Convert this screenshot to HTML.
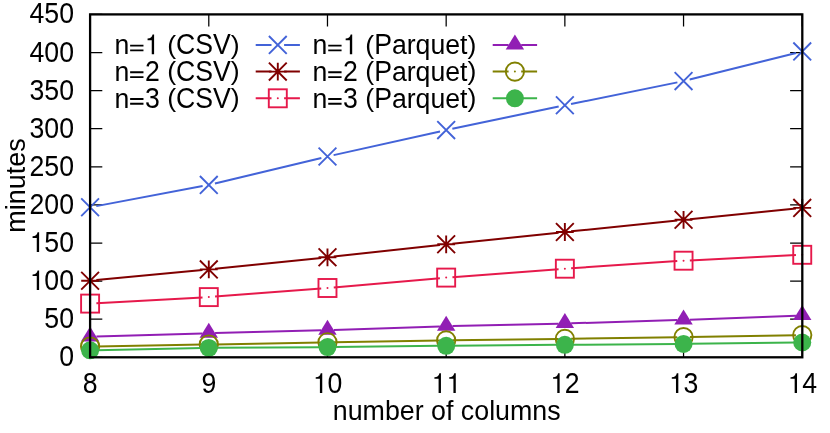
<!DOCTYPE html><html><head><meta charset="utf-8"><style>html,body{margin:0;padding:0;background:#fff}svg{display:block;will-change:transform}</style></head><body><svg width="830" height="433" viewBox="0 0 830 433">
<rect width="830" height="433" fill="#fff"/>
<path d="M90.10,357.30h12.2M802.30,357.30h-12.2M90.10,319.20h12.2M802.30,319.20h-12.2M90.10,281.10h12.2M802.30,281.10h-12.2M90.10,243.00h12.2M802.30,243.00h-12.2M90.10,204.90h12.2M802.30,204.90h-12.2M90.10,166.80h12.2M802.30,166.80h-12.2M90.10,128.70h12.2M802.30,128.70h-12.2M90.10,90.60h12.2M802.30,90.60h-12.2M90.10,52.50h12.2M802.30,52.50h-12.2M90.10,14.40h12.2M802.30,14.40h-12.2M90.10,357.30v-12.2M90.10,14.40v12.2M208.79,357.30v-12.2M208.79,14.40v12.2M327.48,357.30v-12.2M327.48,14.40v12.2M446.17,357.30v-12.2M446.17,14.40v12.2M564.86,357.30v-12.2M564.86,14.40v12.2M683.55,357.30v-12.2M683.55,14.40v12.2M802.24,357.30v-12.2M802.24,14.40v12.2" stroke="#000" stroke-width="1.25" fill="none"/>
<g fill="#000" style="font-family:&quot;Liberation Sans&quot;,sans-serif;font-size:26.67px;filter:grayscale(1);font-kerning:none">
<text transform="translate(59.17,366.30) scale(1,1.09)">0</text>
<text transform="translate(44.34,328.20) scale(1,1.09)">5</text><text transform="translate(59.17,328.20) scale(1,1.09)">0</text>
<path transform="translate(29.51,290.10) scale(26.67,-27.737)" d="M0.360,0H0.272V0.507H0.115V0.566C0.220,0.574 0.283,0.600 0.303,0.709H0.360Z"/><text transform="translate(44.34,290.10) scale(1,1.09)">0</text><text transform="translate(59.17,290.10) scale(1,1.09)">0</text>
<path transform="translate(29.51,252.00) scale(26.67,-27.737)" d="M0.360,0H0.272V0.507H0.115V0.566C0.220,0.574 0.283,0.600 0.303,0.709H0.360Z"/><text transform="translate(44.34,252.00) scale(1,1.09)">5</text><text transform="translate(59.17,252.00) scale(1,1.09)">0</text>
<text transform="translate(29.51,213.90) scale(1,1.09)">2</text><text transform="translate(44.34,213.90) scale(1,1.09)">0</text><text transform="translate(59.17,213.90) scale(1,1.09)">0</text>
<text transform="translate(29.51,175.80) scale(1,1.09)">2</text><text transform="translate(44.34,175.80) scale(1,1.09)">5</text><text transform="translate(59.17,175.80) scale(1,1.09)">0</text>
<text transform="translate(29.51,137.70) scale(1,1.09)">3</text><text transform="translate(44.34,137.70) scale(1,1.09)">0</text><text transform="translate(59.17,137.70) scale(1,1.09)">0</text>
<text transform="translate(29.51,99.60) scale(1,1.09)">3</text><text transform="translate(44.34,99.60) scale(1,1.09)">5</text><text transform="translate(59.17,99.60) scale(1,1.09)">0</text>
<text transform="translate(29.51,61.50) scale(1,1.09)">4</text><text transform="translate(44.34,61.50) scale(1,1.09)">0</text><text transform="translate(59.17,61.50) scale(1,1.09)">0</text>
<text transform="translate(29.51,23.40) scale(1,1.09)">4</text><text transform="translate(44.34,23.40) scale(1,1.09)">5</text><text transform="translate(59.17,23.40) scale(1,1.09)">0</text>
<text transform="translate(82.69,392.90) scale(1,1.09)">8</text>
<text transform="translate(201.38,392.90) scale(1,1.09)">9</text>
<path transform="translate(312.65,392.90) scale(26.67,-27.737)" d="M0.360,0H0.272V0.507H0.115V0.566C0.220,0.574 0.283,0.600 0.303,0.709H0.360Z"/><text transform="translate(327.48,392.90) scale(1,1.09)">0</text>
<path transform="translate(431.34,392.90) scale(26.67,-27.737)" d="M0.360,0H0.272V0.507H0.115V0.566C0.220,0.574 0.283,0.600 0.303,0.709H0.360Z"/><path transform="translate(446.17,392.90) scale(26.67,-27.737)" d="M0.360,0H0.272V0.507H0.115V0.566C0.220,0.574 0.283,0.600 0.303,0.709H0.360Z"/>
<path transform="translate(550.03,392.90) scale(26.67,-27.737)" d="M0.360,0H0.272V0.507H0.115V0.566C0.220,0.574 0.283,0.600 0.303,0.709H0.360Z"/><text transform="translate(564.86,392.90) scale(1,1.09)">2</text>
<path transform="translate(668.72,392.90) scale(26.67,-27.737)" d="M0.360,0H0.272V0.507H0.115V0.566C0.220,0.574 0.283,0.600 0.303,0.709H0.360Z"/><text transform="translate(683.55,392.90) scale(1,1.09)">3</text>
<path transform="translate(787.41,392.90) scale(26.67,-27.737)" d="M0.360,0H0.272V0.507H0.115V0.566C0.220,0.574 0.283,0.600 0.303,0.709H0.360Z"/><text transform="translate(802.24,392.90) scale(1,1.09)">4</text>
<text transform="translate(446.7,420.4) scale(1.005,1.035)" text-anchor="middle">number of columns</text>
<text transform="translate(25.3,185.5) rotate(-90) scale(1.012,1.035)" text-anchor="middle">minutes</text>
<text transform="translate(114.50,54.20) scale(1,1.035)">n</text><path d="M130.13,45.61h13.34M130.13,50.39h13.34" stroke="#000" stroke-width="1.9" fill="none"/><path transform="translate(144.50,54.20) scale(26.67,-27.737)" d="M0.360,0H0.272V0.507H0.115V0.566C0.220,0.574 0.283,0.600 0.303,0.709H0.360Z"/><text transform="translate(167.15,53.65) scale(1,1.0)">(</text><text transform="translate(176.03,54.20) scale(1,1.075)">CSV</text><text transform="translate(230.86,53.65) scale(1,1.0)">)</text>
<text transform="translate(312.60,54.20) scale(1,1.035)">n</text><path d="M328.23,45.61h13.34M328.23,50.39h13.34" stroke="#000" stroke-width="1.9" fill="none"/><path transform="translate(342.60,54.20) scale(26.67,-27.737)" d="M0.360,0H0.272V0.507H0.115V0.566C0.220,0.574 0.283,0.600 0.303,0.709H0.360Z"/><text transform="translate(365.25,53.65) scale(1,1.0)">(</text><text transform="translate(374.13,54.20) scale(1,1.075)">P</text><text transform="translate(391.92,54.20) scale(1,1.035)">arquet</text><text transform="translate(467.53,53.65) scale(1,1.0)">)</text>
<text transform="translate(114.50,80.90) scale(1,1.035)">n</text><path d="M130.13,72.31h13.34M130.13,77.09h13.34" stroke="#000" stroke-width="1.9" fill="none"/><text transform="translate(144.90,80.90) scale(1,1.09)">2</text><text transform="translate(167.15,80.35) scale(1,1.0)">(</text><text transform="translate(176.03,80.90) scale(1,1.075)">CSV</text><text transform="translate(230.86,80.35) scale(1,1.0)">)</text>
<text transform="translate(312.60,80.90) scale(1,1.035)">n</text><path d="M328.23,72.31h13.34M328.23,77.09h13.34" stroke="#000" stroke-width="1.9" fill="none"/><text transform="translate(343.00,80.90) scale(1,1.09)">2</text><text transform="translate(365.25,80.35) scale(1,1.0)">(</text><text transform="translate(374.13,80.90) scale(1,1.075)">P</text><text transform="translate(391.92,80.90) scale(1,1.035)">arquet</text><text transform="translate(467.53,80.35) scale(1,1.0)">)</text>
<text transform="translate(114.50,107.60) scale(1,1.035)">n</text><path d="M130.13,99.01h13.34M130.13,103.79h13.34" stroke="#000" stroke-width="1.9" fill="none"/><text transform="translate(144.90,107.60) scale(1,1.09)">3</text><text transform="translate(167.15,107.05) scale(1,1.0)">(</text><text transform="translate(176.03,107.60) scale(1,1.075)">CSV</text><text transform="translate(230.86,107.05) scale(1,1.0)">)</text>
<text transform="translate(312.60,107.60) scale(1,1.035)">n</text><path d="M328.23,99.01h13.34M328.23,103.79h13.34" stroke="#000" stroke-width="1.9" fill="none"/><text transform="translate(343.00,107.60) scale(1,1.09)">3</text><text transform="translate(365.25,107.05) scale(1,1.0)">(</text><text transform="translate(374.13,107.60) scale(1,1.075)">P</text><text transform="translate(391.92,107.60) scale(1,1.035)">arquet</text><text transform="translate(467.53,107.05) scale(1,1.0)">)</text>
</g>
<path d="M255.7,44.90H271.50M284.10,44.90H299.9" stroke="#4363d8" stroke-width="2.0" fill="none"/>
<path d="M268.90,36.00L286.70,53.80M268.90,53.80L286.70,36.00" stroke="#4363d8" stroke-width="1.9" fill="none"/>
<path d="M492.7,44.90H508.60M521.20,44.90H537.1" stroke="#911eb4" stroke-width="2.0" fill="none"/>
<path d="M514.90,34.50L524.10,49.50L505.70,49.50Z" fill="#911eb4"/>
<path d="M255.7,71.60H271.50M284.10,71.60H299.9" stroke="#800000" stroke-width="2.0" fill="none"/>
<path d="M268.90,62.70L286.70,80.50M268.90,80.50L286.70,62.70M268.90,71.60L286.70,71.60M277.80,62.70L277.80,80.50" stroke="#800000" stroke-width="1.9" fill="none"/>
<path d="M492.7,71.60H508.60M521.20,71.60H537.1" stroke="#808000" stroke-width="2.0" fill="none"/>
<circle cx="514.90" cy="71.60" r="9.15" stroke="#808000" stroke-width="1.9" fill="none"/><circle cx="514.90" cy="71.60" r="1" fill="#808000"/>
<path d="M255.7,98.30H271.50M284.10,98.30H299.9" stroke="#e6194b" stroke-width="2.0" fill="none"/>
<rect x="268.80" y="89.30" width="18.00" height="18.00" stroke="#e6194b" stroke-width="1.9" fill="none"/><circle cx="277.80" cy="98.30" r="1" fill="#e6194b"/>
<path d="M492.7,98.30H508.60M521.20,98.30H537.1" stroke="#3cb44b" stroke-width="2.0" fill="none"/>
<circle cx="514.90" cy="98.30" r="9.0" fill="#3cb44b"/>
<line x1="96.29" y1="206.13" x2="202.60" y2="186.07" stroke="#4363d8" stroke-width="2.0"/>
<line x1="214.92" y1="183.43" x2="321.35" y2="157.97" stroke="#4363d8" stroke-width="2.0"/>
<line x1="333.63" y1="155.13" x2="440.02" y2="131.47" stroke="#4363d8" stroke-width="2.0"/>
<line x1="452.34" y1="128.81" x2="558.69" y2="106.59" stroke="#4363d8" stroke-width="2.0"/>
<line x1="571.03" y1="104.04" x2="677.38" y2="82.36" stroke="#4363d8" stroke-width="2.0"/>
<line x1="689.66" y1="79.57" x2="796.13" y2="52.93" stroke="#4363d8" stroke-width="2.0"/>
<path d="M81.20,198.40L99.00,216.20M81.20,216.20L99.00,198.40" stroke="#4363d8" stroke-width="1.9" fill="none"/>
<path d="M199.89,176.00L217.69,193.80M199.89,193.80L217.69,176.00" stroke="#4363d8" stroke-width="1.9" fill="none"/>
<path d="M318.58,147.60L336.38,165.40M318.58,165.40L336.38,147.60" stroke="#4363d8" stroke-width="1.9" fill="none"/>
<path d="M437.27,121.20L455.07,139.00M437.27,139.00L455.07,121.20" stroke="#4363d8" stroke-width="1.9" fill="none"/>
<path d="M555.96,96.40L573.76,114.20M555.96,114.20L573.76,96.40" stroke="#4363d8" stroke-width="1.9" fill="none"/>
<path d="M674.65,72.20L692.45,90.00M674.65,90.00L692.45,72.20" stroke="#4363d8" stroke-width="1.9" fill="none"/>
<path d="M793.34,42.50L811.14,60.30M793.34,60.30L811.14,42.50" stroke="#4363d8" stroke-width="1.9" fill="none"/>
<line x1="96.37" y1="280.10" x2="202.52" y2="270.00" stroke="#800000" stroke-width="2.0"/>
<line x1="215.06" y1="268.76" x2="321.21" y2="257.94" stroke="#800000" stroke-width="2.0"/>
<line x1="333.74" y1="256.61" x2="439.91" y2="244.99" stroke="#800000" stroke-width="2.0"/>
<line x1="452.44" y1="243.65" x2="558.59" y2="232.65" stroke="#800000" stroke-width="2.0"/>
<line x1="571.13" y1="231.36" x2="677.28" y2="220.44" stroke="#800000" stroke-width="2.0"/>
<line x1="689.82" y1="219.17" x2="795.97" y2="208.53" stroke="#800000" stroke-width="2.0"/>
<path d="M81.20,271.80L99.00,289.60M81.20,289.60L99.00,271.80M81.20,280.70L99.00,280.70M90.10,271.80L90.10,289.60" stroke="#800000" stroke-width="1.9" fill="none"/>
<path d="M199.89,260.50L217.69,278.30M199.89,278.30L217.69,260.50M199.89,269.40L217.69,269.40M208.79,260.50L208.79,278.30" stroke="#800000" stroke-width="1.9" fill="none"/>
<path d="M318.58,248.40L336.38,266.20M318.58,266.20L336.38,248.40M318.58,257.30L336.38,257.30M327.48,248.40L327.48,266.20" stroke="#800000" stroke-width="1.9" fill="none"/>
<path d="M437.27,235.40L455.07,253.20M437.27,253.20L455.07,235.40M437.27,244.30L455.07,244.30M446.17,235.40L446.17,253.20" stroke="#800000" stroke-width="1.9" fill="none"/>
<path d="M555.96,223.10L573.76,240.90M555.96,240.90L573.76,223.10M555.96,232.00L573.76,232.00M564.86,223.10L564.86,240.90" stroke="#800000" stroke-width="1.9" fill="none"/>
<path d="M674.65,210.90L692.45,228.70M674.65,228.70L692.45,210.90M674.65,219.80L692.45,219.80M683.55,210.90L683.55,228.70" stroke="#800000" stroke-width="1.9" fill="none"/>
<path d="M793.34,199.00L811.14,216.80M793.34,216.80L811.14,199.00M793.34,207.90L811.14,207.90M802.24,199.00L802.24,216.80" stroke="#800000" stroke-width="1.9" fill="none"/>
<line x1="96.39" y1="303.26" x2="202.50" y2="297.44" stroke="#e6194b" stroke-width="2.0"/>
<line x1="215.07" y1="296.62" x2="321.20" y2="288.48" stroke="#e6194b" stroke-width="2.0"/>
<line x1="333.76" y1="287.45" x2="439.89" y2="278.15" stroke="#e6194b" stroke-width="2.0"/>
<line x1="452.45" y1="277.13" x2="558.58" y2="269.17" stroke="#e6194b" stroke-width="2.0"/>
<line x1="571.15" y1="268.28" x2="677.26" y2="261.12" stroke="#e6194b" stroke-width="2.0"/>
<line x1="689.84" y1="260.39" x2="795.95" y2="255.11" stroke="#e6194b" stroke-width="2.0"/>
<rect x="81.10" y="294.60" width="18.00" height="18.00" stroke="#e6194b" stroke-width="1.9" fill="none"/><circle cx="90.10" cy="303.60" r="1" fill="#e6194b"/>
<rect x="199.79" y="288.10" width="18.00" height="18.00" stroke="#e6194b" stroke-width="1.9" fill="none"/><circle cx="208.79" cy="297.10" r="1" fill="#e6194b"/>
<rect x="318.48" y="279.00" width="18.00" height="18.00" stroke="#e6194b" stroke-width="1.9" fill="none"/><circle cx="327.48" cy="288.00" r="1" fill="#e6194b"/>
<rect x="437.17" y="268.60" width="18.00" height="18.00" stroke="#e6194b" stroke-width="1.9" fill="none"/><circle cx="446.17" cy="277.60" r="1" fill="#e6194b"/>
<rect x="555.86" y="259.70" width="18.00" height="18.00" stroke="#e6194b" stroke-width="1.9" fill="none"/><circle cx="564.86" cy="268.70" r="1" fill="#e6194b"/>
<rect x="674.55" y="251.70" width="18.00" height="18.00" stroke="#e6194b" stroke-width="1.9" fill="none"/><circle cx="683.55" cy="260.70" r="1" fill="#e6194b"/>
<rect x="793.24" y="245.80" width="18.00" height="18.00" stroke="#e6194b" stroke-width="1.9" fill="none"/><circle cx="802.24" cy="254.80" r="1" fill="#e6194b"/>
<line x1="96.40" y1="336.61" x2="202.49" y2="333.39" stroke="#911eb4" stroke-width="2.0"/>
<line x1="215.09" y1="333.04" x2="321.18" y2="330.26" stroke="#911eb4" stroke-width="2.0"/>
<line x1="333.78" y1="329.89" x2="439.87" y2="326.41" stroke="#911eb4" stroke-width="2.0"/>
<line x1="452.47" y1="326.06" x2="558.56" y2="323.64" stroke="#911eb4" stroke-width="2.0"/>
<line x1="571.16" y1="323.31" x2="677.25" y2="320.09" stroke="#911eb4" stroke-width="2.0"/>
<line x1="689.85" y1="319.66" x2="795.94" y2="315.64" stroke="#911eb4" stroke-width="2.0"/>
<path d="M90.10,326.40L99.30,341.40L80.90,341.40Z" fill="#911eb4"/>
<path d="M208.79,322.80L217.99,337.80L199.59,337.80Z" fill="#911eb4"/>
<path d="M327.48,319.70L336.68,334.70L318.28,334.70Z" fill="#911eb4"/>
<path d="M446.17,315.80L455.37,330.80L436.97,330.80Z" fill="#911eb4"/>
<path d="M564.86,313.10L574.06,328.10L555.66,328.10Z" fill="#911eb4"/>
<path d="M683.55,309.50L692.75,324.50L674.35,324.50Z" fill="#911eb4"/>
<path d="M802.24,305.00L811.44,320.00L793.04,320.00Z" fill="#911eb4"/>
<line x1="96.40" y1="346.39" x2="202.49" y2="344.61" stroke="#808000" stroke-width="2.0"/>
<line x1="215.09" y1="344.38" x2="321.18" y2="342.42" stroke="#808000" stroke-width="2.0"/>
<line x1="333.78" y1="342.20" x2="439.87" y2="340.50" stroke="#808000" stroke-width="2.0"/>
<line x1="452.47" y1="340.32" x2="558.56" y2="338.98" stroke="#808000" stroke-width="2.0"/>
<line x1="571.16" y1="338.80" x2="677.25" y2="337.20" stroke="#808000" stroke-width="2.0"/>
<line x1="689.85" y1="336.99" x2="795.94" y2="335.21" stroke="#808000" stroke-width="2.0"/>
<circle cx="90.10" cy="346.50" r="9.15" stroke="#808000" stroke-width="1.9" fill="none"/><circle cx="90.10" cy="346.50" r="1" fill="#808000"/>
<circle cx="208.79" cy="344.50" r="9.15" stroke="#808000" stroke-width="1.9" fill="none"/><circle cx="208.79" cy="344.50" r="1" fill="#808000"/>
<circle cx="327.48" cy="342.30" r="9.15" stroke="#808000" stroke-width="1.9" fill="none"/><circle cx="327.48" cy="342.30" r="1" fill="#808000"/>
<circle cx="446.17" cy="340.40" r="9.15" stroke="#808000" stroke-width="1.9" fill="none"/><circle cx="446.17" cy="340.40" r="1" fill="#808000"/>
<circle cx="564.86" cy="338.90" r="9.15" stroke="#808000" stroke-width="1.9" fill="none"/><circle cx="564.86" cy="338.90" r="1" fill="#808000"/>
<circle cx="683.55" cy="337.10" r="9.15" stroke="#808000" stroke-width="1.9" fill="none"/><circle cx="683.55" cy="337.10" r="1" fill="#808000"/>
<circle cx="802.24" cy="335.10" r="9.15" stroke="#808000" stroke-width="1.9" fill="none"/><circle cx="802.24" cy="335.10" r="1" fill="#808000"/>
<line x1="96.40" y1="350.17" x2="202.49" y2="348.03" stroke="#3cb44b" stroke-width="2.0"/>
<line x1="215.09" y1="347.86" x2="321.18" y2="347.14" stroke="#3cb44b" stroke-width="2.0"/>
<line x1="333.78" y1="347.03" x2="439.87" y2="345.87" stroke="#3cb44b" stroke-width="2.0"/>
<line x1="452.47" y1="345.75" x2="558.56" y2="344.85" stroke="#3cb44b" stroke-width="2.0"/>
<line x1="571.16" y1="344.75" x2="677.25" y2="343.95" stroke="#3cb44b" stroke-width="2.0"/>
<line x1="689.85" y1="343.83" x2="795.94" y2="342.57" stroke="#3cb44b" stroke-width="2.0"/>
<circle cx="90.10" cy="350.30" r="9.0" fill="#3cb44b"/>
<circle cx="208.79" cy="347.90" r="9.0" fill="#3cb44b"/>
<circle cx="327.48" cy="347.10" r="9.0" fill="#3cb44b"/>
<circle cx="446.17" cy="345.80" r="9.0" fill="#3cb44b"/>
<circle cx="564.86" cy="344.80" r="9.0" fill="#3cb44b"/>
<circle cx="683.55" cy="343.90" r="9.0" fill="#3cb44b"/>
<circle cx="802.24" cy="342.50" r="9.0" fill="#3cb44b"/>
<rect x="90.1" y="14.4" width="712.20" height="342.90" fill="none" stroke="#000" stroke-width="2.3"/>
</svg></body></html>
